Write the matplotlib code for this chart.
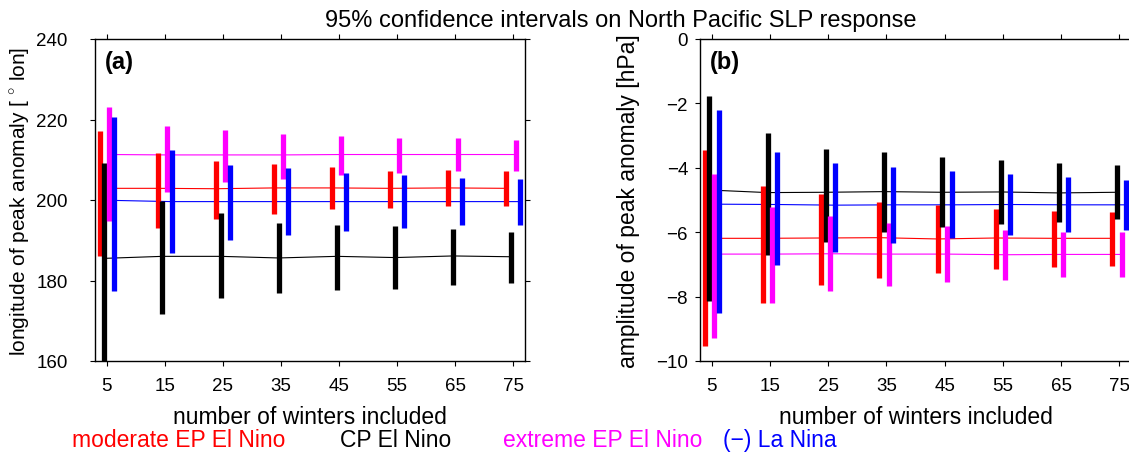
import matplotlib
matplotlib.use('Agg')
import matplotlib.pyplot as plt
import numpy as np

plt.rcParams['font.family'] = ['Liberation Sans', 'DejaVu Sans']
plt.rcParams['mathtext.fontset'] = 'custom'
plt.rcParams['mathtext.rm'] = 'Liberation Sans'

# number of winters included
winters = [5, 15, 25, 35, 45, 55, 65, 75]

series_names = ['moderate EP El Nino', 'CP El Nino', 'extreme EP El Nino', '(\u2212) La Nina']
series_colors = ['#ff0000', '#000000', '#ff00ff', '#0000ff']

# (a) longitude of peak anomaly: 95% interval low/high and mean
lon_mod_lo = [186.0, 193.1, 195.4, 196.5, 197.7, 198.0, 198.6, 198.6]
lon_mod_hi = [217.2, 211.8, 209.6, 209.0, 208.2, 207.2, 207.4, 207.2]
lon_mod_mean = [202.9, 202.9, 202.8, 203.0, 203.0, 202.9, 203.0, 202.9]

lon_cp_lo = [158.0, 171.6, 175.6, 176.9, 177.6, 178.0, 179.0, 179.5]
lon_cp_hi = [209.1, 199.7, 196.8, 194.3, 193.8, 193.5, 192.9, 192.1]
lon_cp_mean = [185.5, 186.0, 186.0, 185.6, 186.0, 185.7, 186.1, 185.9]

lon_ext_lo = [194.9, 202.1, 204.4, 205.3, 206.3, 206.7, 207.2, 207.2]
lon_ext_hi = [223.1, 218.5, 217.5, 216.3, 215.9, 215.5, 215.3, 214.9]
lon_ext_mean = [211.3, 211.2, 211.2, 211.2, 211.3, 211.3, 211.3, 211.3]

lon_nina_lo = [177.4, 186.9, 190.0, 191.3, 192.4, 193.0, 193.7, 193.9]
lon_nina_hi = [220.6, 212.3, 208.7, 208.0, 206.6, 206.1, 205.4, 205.1]
lon_nina_mean = [199.9, 199.6, 199.6, 199.6, 199.6, 199.6, 199.6, 199.6]

# (b) amplitude of peak anomaly [hPa]
amp_mod_lo = [-9.52, -8.19, -7.65, -7.43, -7.27, -7.13, -7.07, -7.04]
amp_mod_hi = [-3.45, -4.57, -4.82, -5.06, -5.17, -5.29, -5.34, -5.37]
amp_mod_mean = [-6.19, -6.19, -6.18, -6.17, -6.21, -6.18, -6.19, -6.19]

amp_cp_lo = [-8.15, -6.72, -6.29, -5.98, -5.85, -5.76, -5.67, -5.60]
amp_cp_hi = [-1.76, -2.92, -3.43, -3.51, -3.66, -3.75, -3.86, -3.92]
amp_cp_mean = [-4.69, -4.77, -4.76, -4.74, -4.76, -4.75, -4.78, -4.76]

amp_ext_lo = [-9.30, -8.19, -7.82, -7.68, -7.55, -7.47, -7.40, -7.38]
amp_ext_hi = [-4.19, -5.21, -5.51, -5.72, -5.82, -5.92, -5.98, -6.00]
amp_ext_mean = [-6.68, -6.68, -6.67, -6.68, -6.68, -6.70, -6.69, -6.69]

amp_nina_lo = [-8.52, -7.02, -6.61, -6.33, -6.18, -6.08, -5.98, -5.94]
amp_nina_hi = [-2.19, -3.52, -3.84, -3.98, -4.10, -4.20, -4.28, -4.37]
amp_nina_mean = [-5.13, -5.14, -5.16, -5.15, -5.15, -5.14, -5.15, -5.15]

lon_data = [
    (lon_mod_lo, lon_mod_hi, lon_mod_mean),
    (lon_cp_lo, lon_cp_hi, lon_cp_mean),
    (lon_ext_lo, lon_ext_hi, lon_ext_mean),
    (lon_nina_lo, lon_nina_hi, lon_nina_mean),
]
amp_data = [
    (amp_mod_lo, amp_mod_hi, amp_mod_mean),
    (amp_cp_lo, amp_cp_hi, amp_cp_mean),
    (amp_ext_lo, amp_ext_hi, amp_ext_mean),
    (amp_nina_lo, amp_nina_hi, amp_nina_mean),
]

offsets = [-1.2, -0.4, 0.4, 1.2]
TICK_FS = 13.5
LABEL_FS = 16.5

fig = plt.figure(figsize=(11.29, 4.56), dpi=100)
ax_a = fig.add_axes([95 / 1129, 94 / 456, 430 / 1129, 322 / 456])
ax_b = fig.add_axes([700 / 1129, 94 / 456, 431 / 1129, 322 / 456])


def draw_panel(ax, data, ylim, yticks, ylabel, tag, ypad, ylabel_x, ylabel_fs):
    x = np.array(winters, dtype=float)
    for (lo, hi, mean), off, c in zip(data, offsets, series_colors):
        xs = x + off
        ax.plot(xs, mean, color=c, linewidth=0.8, zorder=2)
        ax.vlines(xs, lo, hi, color=c, linewidth=3.8, zorder=3)
    ax.set_xlim(3, 77)
    ax.set_ylim(*ylim)
    ax.set_xticks(winters)
    ax.set_yticks(yticks)
    ax.tick_params(direction='out', top=True, right=True, labelsize=TICK_FS,
                   length=3.6, width=0.8)
    ax.tick_params(axis='x', pad=8)
    ax.tick_params(axis='y', pad=ypad)
    for s in ax.spines.values():
        s.set_linewidth(1.0)
    ax.set_xlabel('number of winters included', fontsize=LABEL_FS, labelpad=8)
    ax.set_ylabel(ylabel, fontsize=ylabel_fs)
    # x: right edge of the label in figure coords, y: middle of the axes
    ax.yaxis.set_label_coords(ylabel_x, 255 / 456, transform=fig.transFigure)
    ax.text(0.022, 0.965, tag, transform=ax.transAxes, fontsize=17,
            fontweight='bold', ha='left', va='top')


draw_panel(ax_a, lon_data, (160, 240), [160, 180, 200, 220, 240],
           r'longitude of peak anomaly [ $^{\circ}$ lon]', '(a)', 16, 32 / 1129, 15)
draw_panel(ax_b, amp_data, (-10, 0), [-10, -8, -6, -4, -2, 0],
           'amplitude of peak anomaly [hPa]', '(b)', 5, 640 / 1129, LABEL_FS)

fig.text(0.55, 1 - 21 / 456, '95% confidence intervals on North Pacific SLP response',
         ha='center', va='center', fontsize=17)

legend_x = [72, 340, 503, 723]
for name, c, lx in zip(series_names, series_colors, legend_x):
    fig.text(lx / 1129, 1 - 441 / 456, name, color=c, fontsize=LABEL_FS,
             ha='left', va='center')

fig.savefig('out.png', dpi=100)
